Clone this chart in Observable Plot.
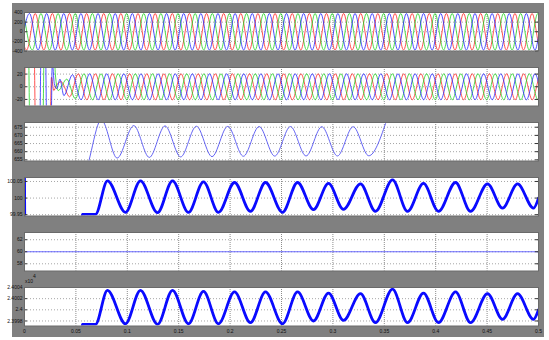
<!DOCTYPE html>
<html><head><meta charset="utf-8">
<script src="https://cdn.jsdelivr.net/npm/d3@7"></script>
<script src="https://cdn.jsdelivr.net/npm/@observablehq/plot@0.6"></script>
<style>
body{margin:0;background:#fff;}
#page{position:relative;width:549px;height:340px;background:#fff;overflow:hidden;}
#gray{position:absolute;left:12px;top:3px;width:532px;height:334px;background:#808080;}
#page svg{position:absolute;left:0;max-width:none;}
.exp{position:absolute;font:5px "Liberation Sans",Arial,sans-serif;color:#111;line-height:1;z-index:2;}
</style></head><body>
<div id="page"><div id="gray"></div>
<span class="exp" style="left:25px;top:278.5px;">x10</span><span class="exp" style="left:33px;top:273.5px;">4</span>
</div>
<script>
// ---------- axes / ticks ----------
const timeTicks = [0, 0.05, 0.1, 0.15, 0.2, 0.25, 0.3, 0.35, 0.4, 0.45, 0.5];
const timeLabels = ["0", "0.05", "0.1", "0.15", "0.2", "0.25", "0.3", "0.35", "0.4", "0.45", "0.5"];
const halfCycle = 1 / 120; // spacing of successive extremes of the 60 Hz waves

const p1Ticks = [400, 200, 0, -200, -400];
const p1Labels = ["400", "200", "0", "-200", "-400"];
const p2Ticks = [20, 0, -20];
const p2Labels = ["20", "0", "-20"];
const p3Ticks = [675, 670, 665, 660, 655];
const p3Labels = ["675", "670", "665", "660", "655"];
const p4Ticks = [100.05, 100, 99.95];
const p4Labels = ["100.05", "100", "99.95"];
const p5Ticks = [62, 60, 58];
const p5Labels = ["62", "60", "58"];
const p6Ticks = [2.4004, 2.4002, 2.4, 2.3998];
const p6Labels = ["2.4004", "2.4002", "2.4", "2.3998"];

// ---------- panel 1: grid voltages (extremes, first at t0) ----------
const p1RedT0 = -0.00626;
const p1RedExt = [380,-380,380,-380,380,-380,380,-380,380,-380,380,-380,380,-380,380,-380,380,-380,380,-380,380,-380,380,-380,380,-380,380,-380,380,-380,380,-380,380,-380,380,-380,380,-380,380,-380,380,-380,380,-380,380,-380,380,-380,380,-380,380,-380,380,-380,380,-380,380,-380,380,-380,380,-380,380];
const p1GreenT0 = -0.00067;
const p1GreenExt = [380,-380,380,-380,380,-380,380,-380,380,-380,380,-380,380,-380,380,-380,380,-380,380,-380,380,-380,380,-380,380,-380,380,-380,380,-380,380,-380,380,-380,380,-380,380,-380,380,-380,380,-380,380,-380,380,-380,380,-380,380,-380,380,-380,380,-380,380,-380,380,-380,380,-380,380,-380,380];
const p1BlueT0 = -0.00347;
const p1BlueExt = [-380,380,-380,380,-380,380,-380,380,-380,380,-380,380,-380,380,-380,380,-380,380,-380,380,-380,380,-380,380,-380,380,-380,380,-380,380,-380,380,-380,380,-380,380,-380,380,-380,380,-380,380,-380,380,-380,380,-380,380,-380,380,-380,380,-380,380,-380,380,-380,380,-380,380,-380,380,-380];

// ---------- panel 2: currents (start-up transient, then extremes) ----------
const p2RedTrT = [0, 0.0008, 0.0020, 0.0095, 0.0105, 0.0250, 0.0262, 0.0285, 0.0310];
const p2RedTrV = [-50, 48, 55, 50, -48, -50, 15, -6, 2];
const p2RedT0 = 0.0356;
const p2RedExt = [8,-16,20.5,-20.5,20.5,-20.5,20.5,-20.5,20.5,-20.5,20.5,-20.5,20.5,-20.5,20.5,-20.5,20.5,-20.5,20.5,-20.5,20.5,-20.5,20.5,-20.5,20.5,-20.5,20.5,-20.5,20.5,-20.5,20.5,-20.5,20.5,-20.5,20.5,-20.5,20.5,-20.5,20.5,-20.5,20.5,-20.5,20.5,-20.5,20.5,-20.5,20.5,-20.5,20.5,-20.5,20.5,-20.5,20.5,-20.5,20.5,-20.5,20.5,-20.5];
const p2GreenTrT = [0, 0.0040, 0.0050, 0.0180, 0.0190, 0.0290, 0.0300];
const p2GreenTrV = [50, 48, -48, -50, 48, 50, 20];
const p2GreenT0 = 0.0328;
const p2GreenExt = [-6,12,-19,20.5,-20.5,20.5,-20.5,20.5,-20.5,20.5,-20.5,20.5,-20.5,20.5,-20.5,20.5,-20.5,20.5,-20.5,20.5,-20.5,20.5,-20.5,20.5,-20.5,20.5,-20.5,20.5,-20.5,20.5,-20.5,20.5,-20.5,20.5,-20.5,20.5,-20.5,20.5,-20.5,20.5,-20.5,20.5,-20.5,20.5,-20.5,20.5,-20.5,20.5,-20.5,20.5,-20.5,20.5,-20.5,20.5,-20.5,20.5,-20.5,20.5,-20.5];
const p2BlueTrT = [0, 0.0150, 0.0160, 0.0205, 0.0215, 0.0260, 0.0270, 0.0290, 0.0315, 0.0345];
const p2BlueTrV = [-50, -48, 48, 50, -48, -50, 40, 5, -3, 12];
const p2BlueT0 = 0.0383;
const p2BlueExt = [-14,19,-20.5,20.5,-20.5,20.5,-20.5,20.5,-20.5,20.5,-20.5,20.5,-20.5,20.5,-20.5,20.5,-20.5,20.5,-20.5,20.5,-20.5,20.5,-20.5,20.5,-20.5,20.5,-20.5,20.5,-20.5,20.5,-20.5,20.5,-20.5,20.5,-20.5,20.5,-20.5,20.5,-20.5,20.5,-20.5,20.5,-20.5,20.5,-20.5,20.5,-20.5,20.5,-20.5,20.5,-20.5,20.5,-20.5,20.5,-20.5,20.5,-20.5,20.5];

// ---------- panel 3 ----------
const p3T = [0.058, 0.0626, 0.0723, 0.0747, 0.0772, 0.0901, 0.1063, 0.1214, 0.1367, 0.1519, 0.1672, 0.1824, 0.1977, 0.2129, 0.2282, 0.2434, 0.2587, 0.2739, 0.2892, 0.3044, 0.3197, 0.3349, 0.3512];
const p3V = [643.5, 654.3, 677.9, 680.5, 677.9, 656.1, 676.0, 656.5, 675.8, 656.8, 675.6, 657.0, 675.5, 657.2, 675.4, 657.3, 675.4, 657.4, 675.3, 657.4, 675.3, 657.5, 677.2];

// ---------- panel 4 ----------
const p4T = [0, 0.0004, 0.0555, 0.0560, 0.0690, 0.0807, 0.0982, 0.1128, 0.1294, 0.1440, 0.1595, 0.1741, 0.1887, 0.2043, 0.2198, 0.2344, 0.2510, 0.2656, 0.2811, 0.2957, 0.3103, 0.3268, 0.3414, 0.3580, 0.3726, 0.3881, 0.4027, 0.4193, 0.4339, 0.4504, 0.4650, 0.4796, 0.4951, 0.5000];
const p4V = [100.08, 99.90, 99.90, 99.951, 99.951, 100.052, 99.957, 100.052, 99.956, 100.052, 99.957, 100.049, 99.957, 100.047, 99.960, 100.047, 99.957, 100.047, 99.965, 100.044, 99.966, 100.043, 99.960, 100.055, 99.960, 100.044, 99.960, 100.047, 99.960, 100.043, 99.970, 100.043, 99.970, 100.000];

// ---------- panel 5 ----------
const p5T = [0, 0.5];
const p5V = [60, 60];

// ---------- panel 6 (x10^4) ----------
const p6T = [0, 0.0555, 0.0560, 0.0690, 0.0807, 0.0982, 0.1128, 0.1294, 0.1440, 0.1595, 0.1741, 0.1887, 0.2043, 0.2198, 0.2344, 0.2510, 0.2656, 0.2811, 0.2957, 0.3103, 0.3268, 0.3414, 0.3580, 0.3726, 0.3881, 0.4027, 0.4193, 0.4339, 0.4504, 0.4650, 0.4796, 0.4951, 0.5000];
const p6V = [2.3990, 2.3990, 2.39974, 2.39974, 2.40035, 2.39975, 2.40035, 2.39974, 2.40035, 2.39975, 2.40033, 2.39975, 2.40032, 2.39977, 2.40032, 2.39975, 2.40032, 2.39980, 2.40030, 2.39981, 2.40029, 2.39977, 2.40037, 2.39977, 2.40030, 2.39977, 2.40032, 2.39977, 2.40029, 2.39983, 2.40029, 2.39983, 2.40000];

// ---------- helpers ----------
const zip = (ts, vs) => ts.map((t, i) => ({t, v: vs[i]}));
const ext = (t0, vs) => vs.map((v, i) => ({t: t0 + i * halfCycle, v}));

const RED = "#ff2424", GREEN = "#22d422", BLUE = "#2424ff";
const FONT = "'Liberation Sans', Arial, Helvetica, sans-serif";
const W = 549, ML = 24, MR = 11, PH = 38.5;
const frameW = W - ML - MR;
const page = document.getElementById("page");

function panel({top, yDomain, yTicks, yLabels, lines, xAxis}) {
  const mt = 2, mb = xAxis ? 12 : 2;
  const lab = new Map(yTicks.map((d, i) => [d, yLabels[i]]));
  const marks = [
    Plot.frame({fill: "#ffffff", stroke: "none"}),
    Plot.gridX(timeTicks.slice(1, -1), {stroke: "#8c8c8c", strokeOpacity: 1, strokeDasharray: "1,1"}),
    Plot.gridY(yTicks, {stroke: "#a6a6a6", strokeOpacity: 1, strokeDasharray: "1,2"}),
    ...lines.map(l => Plot.line(l.data, {x: "t", y: "v", stroke: l.color, strokeWidth: l.width, curve: "monotone-x", clip: true})),
    Plot.tickY(yTicks, {y: d => d, insetRight: frameW - 3, stroke: "#333"}),
    Plot.tickY(yTicks, {y: d => d, insetLeft: frameW - 3, stroke: "#333"}),
    Plot.frame({stroke: "#6a6a6a"}),
    Plot.axisY(yTicks, {tickSize: 0, tickPadding: 2, tickFormat: d => lab.get(d), fontSize: 5, fontFamily: FONT, label: null})
  ];
  const xOpts = {domain: [0, 0.5], label: null};
  if (xAxis) {
    const xl = new Map(timeTicks.map((d, i) => [d, timeLabels[i]]));
    marks.push(Plot.axisX(timeTicks, {tickSize: 0, tickPadding: 3, tickFormat: d => xl.get(d), fontSize: 5, fontFamily: FONT, label: null}));
  } else {
    xOpts.axis = null;
  }
  const svg = Plot.plot({
    width: W, height: mt + PH + mb,
    marginLeft: ML, marginRight: MR, marginTop: mt, marginBottom: mb,
    x: xOpts,
    y: {domain: yDomain, label: null},
    style: {background: "transparent", color: "#111", fontFamily: FONT, fontSize: "5px", overflow: "visible", maxWidth: "none"},
    marks
  });
  svg.style.top = (top - mt) + "px";
  svg.style.maxWidth = "none";
  page.appendChild(svg);
}

panel({top: 12, yDomain: [-400, 400], yTicks: p1Ticks, yLabels: p1Labels, lines: [
  {data: ext(p1RedT0, p1RedExt), color: RED, width: 0.8},
  {data: ext(p1GreenT0, p1GreenExt), color: GREEN, width: 0.8},
  {data: ext(p1BlueT0, p1BlueExt), color: BLUE, width: 0.8}
]});
panel({top: 67, yDomain: [-30.4, 30.4], yTicks: p2Ticks, yLabels: p2Labels, lines: [
  {data: zip(p2RedTrT, p2RedTrV).concat(ext(p2RedT0, p2RedExt)), color: RED, width: 0.8},
  {data: zip(p2GreenTrT, p2GreenTrV).concat(ext(p2GreenT0, p2GreenExt)), color: GREEN, width: 0.8},
  {data: zip(p2BlueTrT, p2BlueTrV).concat(ext(p2BlueT0, p2BlueExt)), color: BLUE, width: 0.8}
]});
panel({top: 122, yDomain: [654.3, 677.9], yTicks: p3Ticks, yLabels: p3Labels, lines: [
  {data: zip(p3T, p3V), color: "#5252f2", width: 0.9}
]});
panel({top: 177, yDomain: [99.946, 100.062], yTicks: p4Ticks, yLabels: p4Labels, lines: [
  {data: zip(p4T, p4V), color: "#0a0aff", width: 2.8}
]});
panel({top: 232, yDomain: [56.8, 63.2], yTicks: p5Ticks, yLabels: p5Labels, lines: [
  {data: zip(p5T, p5V), color: "#5a5aff", width: 0.9}
]});
panel({top: 287, yDomain: [2.39971, 2.40040], yTicks: p6Ticks, yLabels: p6Labels, lines: [
  {data: zip(p6T, p6V), color: "#0a0aff", width: 2.8}
], xAxis: true});
</script>
</body></html>
